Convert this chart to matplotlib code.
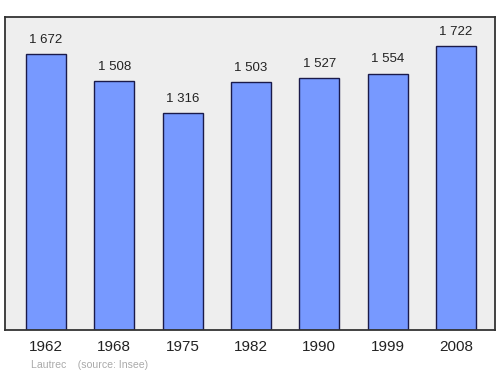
import matplotlib
matplotlib.use("Agg")
import matplotlib.pyplot as plt

plt.rcParams["font.family"] = ["Liberation Sans", "DejaVu Sans"]

years = ["1962", "1968", "1975", "1982", "1990", "1999", "2008"]
population = [1672, 1508, 1316, 1503, 1527, 1554, 1722]
labels = ["1 672", "1 508", "1 316", "1 503", "1 527", "1 554", "1 722"]

fig = plt.figure(figsize=(5, 3.74), dpi=100)
ax = fig.add_axes([5 / 500, 1 - 330 / 374, 490 / 500, 313 / 374])
ax.set_facecolor("#eeeeee")

x = list(range(len(years)))
ax.bar(x, population, width=0.585, color="#7799ff", edgecolor="#1a1a4a", linewidth=1)
for xi, v, t in zip(x, population, labels):
    ax.text(xi, v + 50, t, ha="center", va="bottom", fontsize=9.5, color="#222222")

ax.set_xlim(-0.6, 6.57)
ax.set_ylim(0, 1897)
ax.set_yticks([])
ax.set_xticks(x)
ax.set_xticklabels(years, fontsize=11, color="#222222")
ax.tick_params(axis="x", length=0, pad=7)
for s in ax.spines.values():
    s.set_color("#333333")
    s.set_linewidth(1.3)

fig.text(31 / 500, 1 - 365 / 374, "Lautrec    (source: Insee)", fontsize=7.6,
         color="#aaaaaa", va="center")

fig.savefig("out.png", dpi=100)
